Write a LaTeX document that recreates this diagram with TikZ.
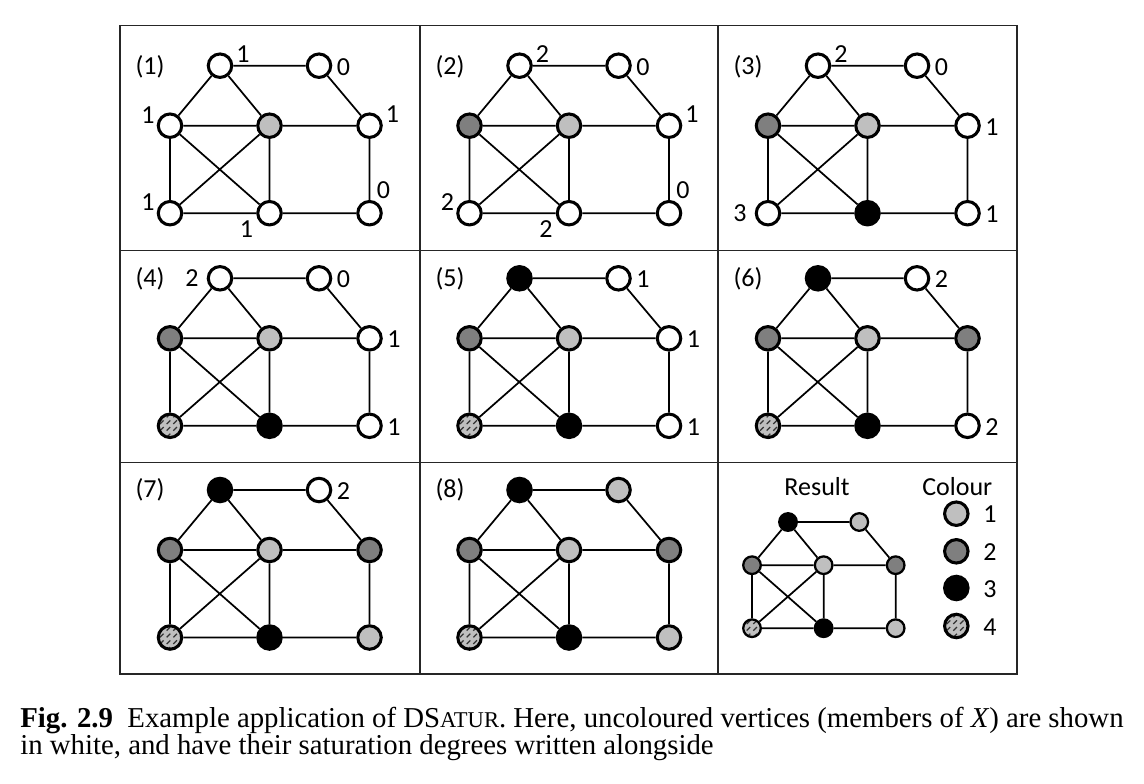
\documentclass[tikz,border=0pt]{standalone}
\usepackage{fontspec}
\setmainfont{Liberation Serif}
\newfontfamily\calfont{Carlito}
\usetikzlibrary{patterns}
\definecolor{lightg}{HTML}{BFBFBF}
\definecolor{darkg}{HTML}{7F7F7F}
\pgfdeclarepatternformonly{dashhatch}{\pgfqpoint{-1pt}{-1pt}}{\pgfqpoint{6pt}{6pt}}{\pgfqpoint{5pt}{5pt}}{%
  \pgfsetlinewidth{0.9pt}%
  \pgfpathmoveto{\pgfqpoint{0pt}{0pt}}%
  \pgfpathlineto{\pgfqpoint{2.7pt}{2.7pt}}%
  \pgfusepath{stroke}}
\tikzset{
  vtx/.style={circle, draw=black, line width=2.3pt, minimum size=17.6pt, inner sep=0pt},
  cw/.style={vtx, fill=white},
  c1/.style={vtx, fill=lightg},
  c2/.style={vtx, fill=darkg},
  c3/.style={vtx, fill=black},
  c4/.style={vtx, preaction={fill=lightg}, preaction={pattern=dashhatch, pattern color=black!80}},
  eg/.style={line width=1.3pt},
  frame/.style={line width=0.8pt, draw=black!85},
  lbl/.style={font=\calfont\fontsize{19.5}{22}\selectfont, inner sep=0pt},
  captext/.style={font=\fontsize{21.6}{25}\selectfont, inner sep=0pt, anchor=base west},
}
\newcommand\housegraph[8]{%
  \node[#1] (TL) at (100,0) {};
  \node[#2] (TR) at (199,0) {};
  \node[#3] (ML) at (50,60) {};
  \node[#4] (MC) at (149.5,60) {};
  \node[#5] (MR) at (249.5,60) {};
  \node[#6] (BL) at (50,147.5) {};
  \node[#7] (BC) at (149.5,147.5) {};
  \node[#8] (BR) at (249.5,147.5) {};
  \draw[eg] (TL)--(TR) (TL)--(ML) (TL)--(MC) (TR)--(MR) (ML)--(MC) (MC)--(MR)
            (ML)--(BL) (ML)--(BC) (MC)--(BL) (MC)--(BC) (MR)--(BR) (BL)--(BC) (BC)--(BR);
}
% label: name, shift, vertex, text
\newcommand\lab[4]{\node[lbl] (#1) at ([shift={#2}]#3) {#4};}
\def\UR{(23,-12)}
\def\RR{(24.5,1)}
\def\UL{(-22,-11)}
\def\BLf{(-23,16)}
\def\AR{(14,-23)}
\def\LL{(-28,0)}
\begin{document}
\begin{tikzpicture}[x=0.75pt, y=-0.75pt]
\useasboundingbox (0,0) rectangle (1144,784);
% frame
\draw[frame] (120,25.7) rectangle (1017,674);
\draw[frame] (420,25.7) -- (420,674) (718,25.7) -- (718,674)
             (120,250.7) -- (1017,250.7) (120,462.3) -- (1017,462.3);
% panel 1
\begin{scope}[shift={(120,65.7)}, name prefix=p1-]
  \housegraph{cw}{cw}{cw}{c1}{cw}{cw}{cw}{cw}
  \node[lbl] (title) at (30,1) {(1)};
  \lab{lTL}{\UR}{TL}{1}
  \lab{lTR}{\RR}{TR}{0}
  \lab{lML}{\UL}{ML}{1}
  \lab{lMR}{\UR}{MR}{1}
  \lab{lBR}{\AR}{BR}{0}
  \lab{lBL}{\UL}{BL}{1}
  \lab{lBC}{\BLf}{BC}{1}
\end{scope}
% panel 2
\begin{scope}[shift={(419.5,65.7)}, name prefix=p2-]
  \housegraph{cw}{cw}{c2}{c1}{cw}{cw}{cw}{cw}
  \node[lbl] (title) at (30.5,1) {(2)};
  \lab{lTL}{\UR}{TL}{2}
  \lab{lTR}{\RR}{TR}{0}
  \lab{lMR}{\UR}{MR}{1}
  \lab{lBR}{\AR}{BR}{0}
  \lab{lBL}{\UL}{BL}{2}
  \lab{lBC}{\BLf}{BC}{2}
\end{scope}
% panel 3
\begin{scope}[shift={(718,65.7)}, name prefix=p3-]
  \housegraph{cw}{cw}{c2}{c1}{cw}{cw}{c3}{cw}
  \node[lbl] (title) at (30,1) {(3)};
  \lab{lTL}{\UR}{TL}{2}
  \lab{lTR}{\RR}{TR}{0}
  \lab{lMR}{\RR}{MR}{1}
  \lab{lBR}{\RR}{BR}{1}
  \lab{lBL}{\LL}{BL}{3}
\end{scope}
% panel 4
\begin{scope}[shift={(120,278.3)}, name prefix=p4-]
  \housegraph{cw}{cw}{c2}{c1}{cw}{c4}{c3}{cw}
  \node[lbl] (title) at (30,0) {(4)};
  \lab{lTL}{\LL}{TL}{2}
  \lab{lTR}{\RR}{TR}{0}
  \lab{lMR}{\RR}{MR}{1}
  \lab{lBR}{\RR}{BR}{1}
\end{scope}
% panel 5
\begin{scope}[shift={(419.5,278.3)}, name prefix=p5-]
  \housegraph{c3}{cw}{c2}{c1}{cw}{c4}{c3}{cw}
  \node[lbl] (title) at (30.5,0) {(5)};
  \lab{lTR}{\RR}{TR}{1}
  \lab{lMR}{\RR}{MR}{1}
  \lab{lBR}{\RR}{BR}{1}
\end{scope}
% panel 6
\begin{scope}[shift={(718,278.3)}, name prefix=p6-]
  \housegraph{c3}{cw}{c2}{c1}{c2}{c4}{c3}{cw}
  \node[lbl] (title) at (30,0) {(6)};
  \lab{lTR}{\RR}{TR}{2}
  \lab{lBR}{\RR}{BR}{2}
\end{scope}
% panel 7
\begin{scope}[shift={(120,490)}, name prefix=p7-]
  \housegraph{c3}{cw}{c2}{c1}{c2}{c4}{c3}{c1}
  \node[lbl] (title) at (30,0) {(7)};
  \lab{lTR}{\RR}{TR}{2}
\end{scope}
% panel 8
\begin{scope}[shift={(419.5,490)}, name prefix=p8-]
  \housegraph{c3}{c1}{c2}{c1}{c2}{c4}{c3}{c1}
  \node[lbl] (title) at (30.5,0) {(8)};
\end{scope}
% result
\begin{scope}[shift={(716,522)}, scale=0.72, name prefix=res-,
  vtx/.style={circle, draw=black, line width=1.7pt, minimum size=13.2pt, inner sep=0pt}]
  \housegraph{c3}{c1}{c2}{c1}{c2}{c4}{c3}{c1}
\end{scope}
\node[lbl] (restitle) at (817,487) {Result};
\node[lbl] (coltitle) at (957.3,487) {Colour};
\node[c1] (k1) at (956.3,513.7) {};
\node[c2] (k2) at (956.3,551.3) {};
\node[c3] (k3) at (956.3,588) {};
\node[c4] (k4) at (956.3,626) {};
\node[lbl] (n1) at (990,514) {1};
\node[lbl] (n2) at (990,552) {2};
\node[lbl] (n3) at (990,589) {3};
\node[lbl] (n4) at (990,627) {4};
% caption
\node[captext] (cap1) at (20,727) {\textbf{Fig. 2.9}\hspace{0.5em}Example application of DS{\fontsize{16.9}{25}\selectfont ATUR}. Here, uncoloured vertices (members of \textit{X}) are shown};
\node[captext] (cap2) at (20,754.5) {in white, and have their saturation degrees written alongside};
\end{tikzpicture}
\end{document}
